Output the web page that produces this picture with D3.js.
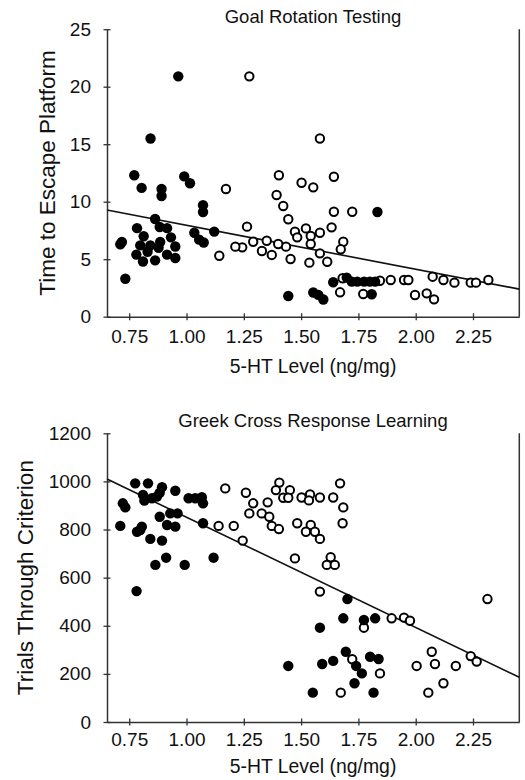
<!DOCTYPE html>
<html>
<head>
<meta charset="utf-8">
<script src="https://cdn.jsdelivr.net/npm/d3@7"></script>
<style>
  body { margin: 0; background: #fff; }
  svg { display: block; font-family: "Liberation Sans", Arial, sans-serif; }
</style>
</head>
<body>
<div id="chart"></div>
<script>
// ---- data ----
const xTicks = [0.75, 1.0, 1.25, 1.5, 1.75, 2.0, 2.25];

// Goal Rotation Testing (time to escape platform)
const goalTicks = [0, 5, 10, 15, 20, 25];
const goalFilledX = [0.964, 0.843, 0.772, 0.804, 0.891, 0.891, 0.990, 1.015, 1.072, 1.072, 0.863, 0.784, 0.883, 0.915, 0.813, 0.932, 1.034, 1.121, 1.055, 1.075, 0.718, 0.711, 0.798, 0.842, 0.885, 0.878, 0.951, 0.781, 0.830, 0.915, 0.810, 0.863, 0.951, 0.733,
  1.833, 1.444, 1.553, 1.575, 1.597, 1.808, 1.640, 1.699, 1.721, 1.745, 1.775, 1.800, 1.823];
const goalFilledY = [20.9, 15.5, 12.3, 11.2, 11.1, 10.5, 12.2, 11.6, 9.7, 9.1, 8.5, 7.7, 7.8, 7.7, 7.0, 6.9, 7.3, 7.4, 6.7, 6.45, 6.5, 6.3, 6.2, 6.2, 6.5, 6.0, 6.1, 5.4, 5.65, 5.4, 4.8, 4.9, 5.1, 3.3,
  9.1, 1.8, 2.1, 1.9, 1.5, 1.95, 3.0, 3.4, 3.05, 3.05, 3.05, 3.05, 3.05];
const goalOpenX = [1.274, 1.172, 1.582, 1.403, 1.502, 1.553, 1.643, 1.393, 1.422, 1.444, 1.473, 1.483, 1.521, 1.542, 1.542, 1.582, 1.633, 1.643, 1.723, 1.684, 1.673, 1.582, 1.614, 1.536, 1.454, 1.434, 1.400, 1.372, 1.329, 1.350, 1.291, 1.264, 1.243, 1.213, 1.143,
  1.681, 1.670, 1.771, 1.844, 1.891, 1.949, 1.968, 1.997, 2.048, 2.080, 2.074, 2.121, 2.169, 2.240, 2.263, 2.317];
const goalOpenY = [20.9, 11.1, 15.5, 12.3, 11.65, 11.25, 12.17, 10.58, 9.63, 8.47, 7.39, 6.9, 7.68, 7.02, 6.32, 7.3, 7.77, 9.13, 9.13, 6.52, 5.86, 5.51, 4.78, 4.7, 5.02, 6.09, 6.32, 5.37, 5.71, 6.6, 6.52, 7.83, 6.03, 6.09, 5.3,
  3.34, 2.12, 1.97, 3.13, 3.19, 3.19, 3.19, 1.89, 2.03, 1.51, 3.48, 3.19, 2.96, 2.96, 2.96, 3.19];
const goalFitX = [0.653, 2.452];
const goalFitY = [9.28, 2.4];

// Greek Cross Response Learning (trials through criterion)
const greekTicks = [0, 200, 400, 600, 800, 1000, 1200];
const greekFilledX = [0.776, 0.832, 0.893, 0.883, 0.871, 0.951, 0.810, 0.816, 0.849, 1.009, 1.038, 1.067, 1.072, 0.722, 0.733, 0.883, 0.929, 0.961, 0.915, 0.951, 1.072, 0.711, 0.784, 0.798, 0.805, 0.842, 0.893, 0.911, 0.864, 0.992, 1.118, 0.782,
  1.702, 1.684, 1.774, 1.823, 1.582, 1.695, 1.801, 1.838, 1.740, 1.765, 1.640, 1.592, 1.444, 1.733, 1.551, 1.816];
const greekFilledY = [992, 992, 976, 953, 937, 961, 944, 920, 930, 930, 930, 934, 909, 909, 892, 853, 867, 867, 819, 812, 826, 815, 791, 798, 812, 761, 754, 683, 653, 653, 683, 544,
  511, 431, 424, 431, 392, 292, 271, 262, 233, 202, 254, 241, 233, 161, 122, 122];
const greekOpenX = [1.169, 1.140, 1.206, 1.245, 1.259, 1.291, 1.274, 1.328, 1.361, 1.354, 1.405, 1.390, 1.451, 1.422, 1.444, 1.502, 1.539, 1.534, 1.582, 1.640, 1.670, 1.684, 1.372, 1.403, 1.483, 1.542, 1.521, 1.560, 1.582, 1.681, 1.473, 1.629, 1.612, 1.647, 1.582,
  2.313, 1.774, 1.895, 1.949, 1.975, 1.723, 1.844, 1.673, 2.070, 2.084, 2.004, 2.175, 2.121, 2.055, 2.240, 2.266];
const greekOpenY = [971, 815, 815, 754, 953, 909, 867, 867, 853, 913, 995, 964, 964, 932, 932, 933, 946, 921, 933, 933, 992, 892, 815, 802, 826, 819, 791, 791, 761, 826, 680, 685, 653, 653, 542,
  511, 392, 431, 434, 421, 261, 202, 122, 292, 241, 233, 233, 161, 122, 274, 251];
const greekFitX = [0.653, 2.452];
const greekFitY = [1010, 186];

const svg = d3.select("#chart").append("svg").attr("width", 525).attr("height", 780);

function drawPanel(p) {
  const x = d3.scaleLinear().domain([0.653, 2.452]).range([107, 519.3]);
  const y = d3.scaleLinear().domain(p.yDomain).range([p.bottom, p.top]);
  const g = svg.append("g");

  // x axis
  const xa = g.append("g")
    .attr("transform", `translate(0,${p.bottom})`)
    .call(d3.axisBottom(x).tickValues(xTicks).tickFormat(d3.format(".2f")).tickSizeOuter(0));
  xa.selectAll(".tick line").attr("y1", -3.5).attr("y2", 3.5);
  xa.selectAll(".tick text").attr("y", p.xLabelOffset).attr("dy", 0)
    .style("font-size", "19px").attr("fill", "#111");

  // y axis
  const ya = g.append("g")
    .attr("transform", "translate(107,0)")
    .call(d3.axisLeft(y).tickValues(p.yTicks).tickFormat(d3.format("d")).tickSizeOuter(0));
  ya.selectAll(".tick line").attr("x1", -3.5).attr("x2", 3.5);
  ya.selectAll(".tick text").attr("x", -16)
    .style("font-size", "19px").attr("fill", "#111");

  g.selectAll(".domain").attr("stroke", "#333").attr("stroke-width", 1.5);
  g.selectAll(".tick line").attr("stroke", "#333").attr("stroke-width", 1.3);
  g.selectAll("text").attr("font-family", null);

  // right frame line
  g.append("line")
    .attr("x1", x.range()[1]).attr("x2", x.range()[1])
    .attr("y1", p.top).attr("y2", p.bottom)
    .attr("stroke", "#333").attr("stroke-width", 1.5);

  // fit line
  const line = d3.line().x((d) => x(d[0])).y((d) => y(d[1]));
  g.append("path")
    .datum(d3.zip(p.fitX, p.fitY))
    .attr("d", line)
    .attr("fill", "none").attr("stroke", "#111").attr("stroke-width", 1.6);

  // points
  g.selectAll("circle.open")
    .data(d3.zip(p.openX, p.openY))
    .enter()
    .append("circle")
    .attr("class", "open")
    .attr("cx", (d) => x(d[0]))
    .attr("cy", (d) => y(d[1]))
    .attr("r", 4.2)
    .attr("fill", "#fff").attr("stroke", "#000").attr("stroke-width", 2);

  g.selectAll("circle.filled")
    .data(d3.zip(p.filledX, p.filledY))
    .enter()
    .append("circle")
    .attr("class", "filled")
    .attr("cx", (d) => x(d[0]))
    .attr("cy", (d) => y(d[1]))
    .attr("r", 5.2)
    .attr("fill", "#000");

  // texts
  g.append("text")
    .attr("x", 313).attr("y", p.titleY)
    .attr("text-anchor", "middle")
    .style("font-size", "18.5px").attr("fill", "#111")
    .text(p.title);

  g.append("text")
    .attr("x", 313).attr("y", p.xTitleY)
    .attr("text-anchor", "middle")
    .style("font-size", "19.4px").attr("fill", "#111")
    .text("5-HT Level (ng/mg)");

  g.append("text")
    .attr("transform", `translate(${p.yTitleX},${(p.top + p.bottom) / 2}) rotate(-90)`)
    .attr("text-anchor", "middle")
    .style("font-size", "22.5px").attr("fill", "#111")
    .text(p.yTitle);
}

drawPanel({
  title: "Goal Rotation Testing",
  yTitle: "Time to Escape Platform",
  yDomain: [0, 25], yTicks: goalTicks,
  top: 29.2, bottom: 316.7,
  xLabelOffset: 26, titleY: 22.7, xTitleY: 373, yTitleX: 55,
  filledX: goalFilledX, filledY: goalFilledY,
  openX: goalOpenX, openY: goalOpenY,
  fitX: goalFitX, fitY: goalFitY,
});

drawPanel({
  title: "Greek Cross Response Learning",
  yTitle: "Trials Through Criterion",
  yDomain: [0, 1200], yTicks: greekTicks,
  top: 433.3, bottom: 722,
  xLabelOffset: 24, titleY: 426.7, xTitleY: 772.7, yTitleX: 33,
  filledX: greekFilledX, filledY: greekFilledY,
  openX: greekOpenX, openY: greekOpenY,
  fitX: greekFitX, fitY: greekFitY,
});
</script>
</body>
</html>
